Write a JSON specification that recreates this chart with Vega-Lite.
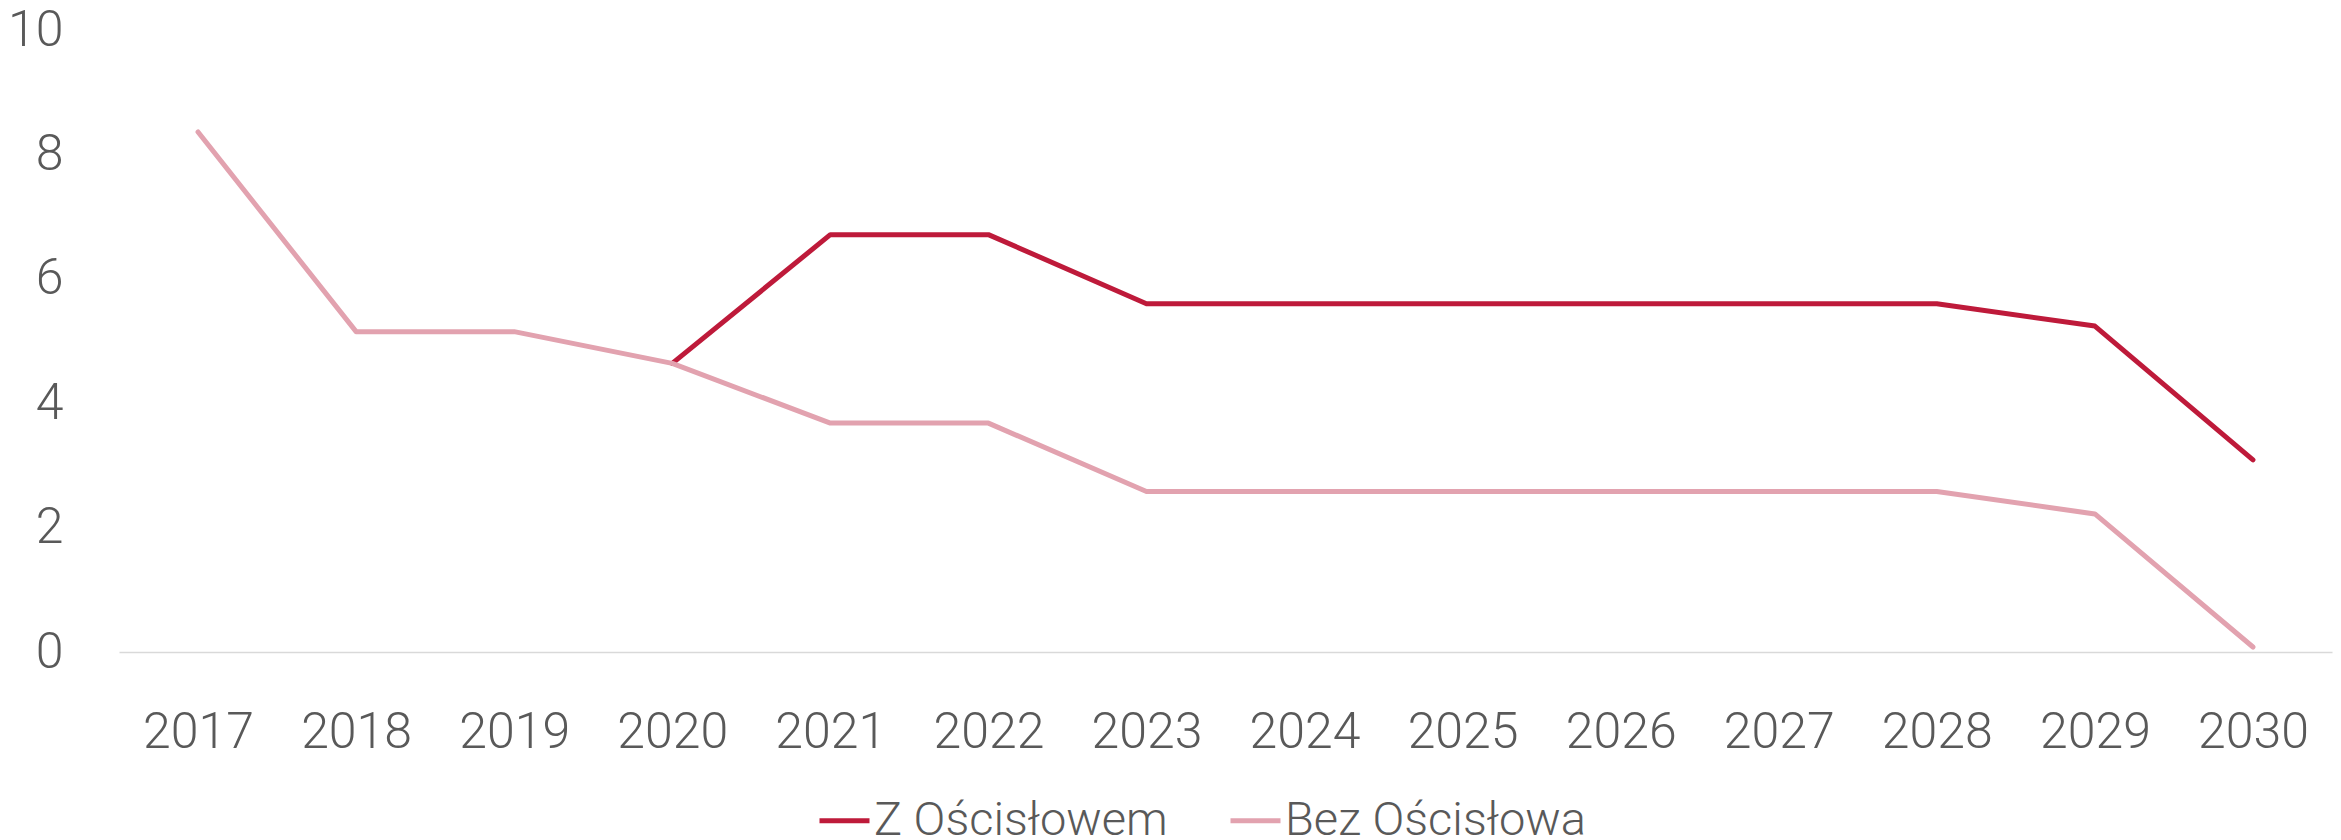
{
  "$schema": "https://vega.github.io/schema/vega-lite/v6.json",
  "autosize": "none",
  "width": 2213,
  "height": 622,
  "padding": {"left": 119, "top": 30, "right": 9, "bottom": 188},
  "background": "white",
  "config": {
    "view": {"stroke": null},
    "font": "Roboto",
    "axis": {"labelFont": "Roboto", "labelColor": "#595959", "labelFontSize": 50, "labelFontWeight": 300},
    "legend": {"labelFont": "Roboto", "labelColor": "#595959", "labelFontSize": 47, "labelFontWeight": 300, "labelLimit": 1000, "padding": 0}
  },
  "data": {
    "values": [
      {"year": "2020", "series": "Z Ościsłowem", "value": 4.64},
      {"year": "2021", "series": "Z Ościsłowem", "value": 6.71},
      {"year": "2022", "series": "Z Ościsłowem", "value": 6.71},
      {"year": "2023", "series": "Z Ościsłowem", "value": 5.6},
      {"year": "2024", "series": "Z Ościsłowem", "value": 5.6},
      {"year": "2025", "series": "Z Ościsłowem", "value": 5.6},
      {"year": "2026", "series": "Z Ościsłowem", "value": 5.6},
      {"year": "2027", "series": "Z Ościsłowem", "value": 5.6},
      {"year": "2028", "series": "Z Ościsłowem", "value": 5.6},
      {"year": "2029", "series": "Z Ościsłowem", "value": 5.24},
      {"year": "2030", "series": "Z Ościsłowem", "value": 3.09},
      {"year": "2017", "series": "Bez Ościsłowa", "value": 8.36},
      {"year": "2018", "series": "Bez Ościsłowa", "value": 5.15},
      {"year": "2019", "series": "Bez Ościsłowa", "value": 5.15},
      {"year": "2020", "series": "Bez Ościsłowa", "value": 4.64},
      {"year": "2021", "series": "Bez Ościsłowa", "value": 3.68},
      {"year": "2022", "series": "Bez Ościsłowa", "value": 3.68},
      {"year": "2023", "series": "Bez Ościsłowa", "value": 2.58},
      {"year": "2024", "series": "Bez Ościsłowa", "value": 2.58},
      {"year": "2025", "series": "Bez Ościsłowa", "value": 2.58},
      {"year": "2026", "series": "Bez Ościsłowa", "value": 2.58},
      {"year": "2027", "series": "Bez Ościsłowa", "value": 2.58},
      {"year": "2028", "series": "Bez Ościsłowa", "value": 2.58},
      {"year": "2029", "series": "Bez Ościsłowa", "value": 2.22},
      {"year": "2030", "series": "Bez Ościsłowa", "value": 0.08}
    ]
  },
  "mark": {"type": "line", "strokeWidth": 5, "strokeCap": "round", "strokeJoin": "round"},
  "encoding": {
    "x": {
      "field": "year", "type": "ordinal", "title": null,
      "scale": {"type": "point", "padding": 0.5},
      "axis": {"labelAngle": 0, "ticks": false, "domain": true, "domainColor": "#D9D9D9", "domainWidth": 1.5, "labelPadding": 55, "grid": false}
    },
    "y": {
      "field": "value", "type": "quantitative", "title": null,
      "scale": {"domain": [0, 10], "nice": false, "zero": true},
      "axis": {"values": [0, 2, 4, 6, 8, 10], "ticks": false, "domain": false, "grid": false, "labelPadding": 56}
    },
    "color": {
      "field": "series", "type": "nominal",
      "scale": {"domain": ["Z Ościsłowem", "Bez Ościsłowa"], "range": ["#BE1A3A", "#E2A2AF"]},
      "legend": {"title": null, "orient": "none", "direction": "horizontal", "legendX": 698, "legendY": 763, "symbolType": "stroke", "symbolSize": 2500, "symbolStrokeWidth": 5, "labelOffset": 2, "columnPadding": 52}
    }
  }
}
